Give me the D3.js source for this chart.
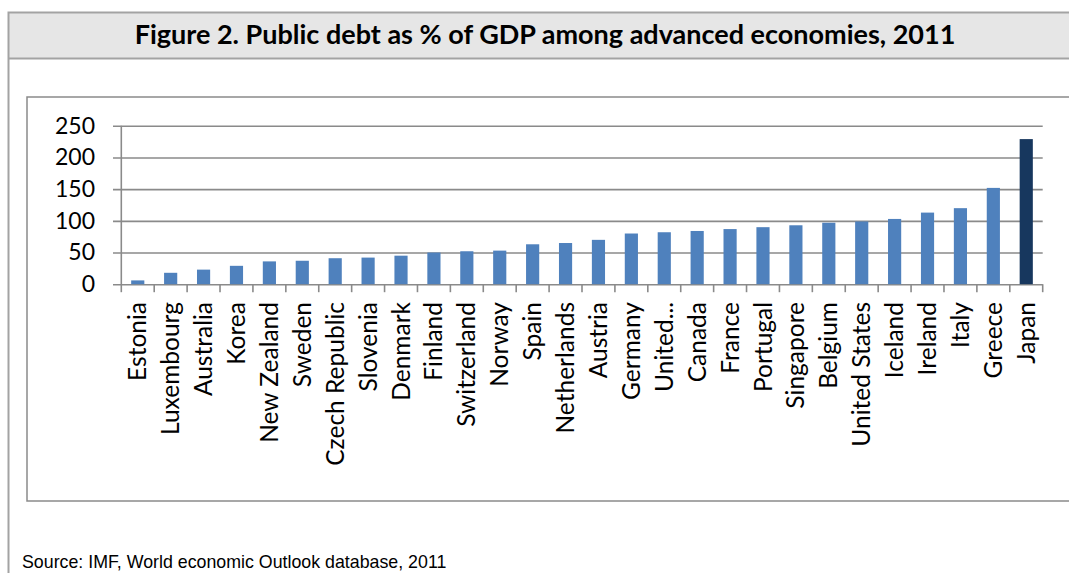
<!DOCTYPE html>
<html>
    <head>
        <title>Public debt as % of GDP, 2011</title>
        <script src="https://d3js.org/d3.v7.min.js"></script>
        <style>
            body { margin: 0; background: #fff; }
        </style>
    </head>
    <body>
        <div id="chart"></div>
        <script>
            //  the data
            const categories = ["Estonia", "Luxembourg", "Australia", "Korea", "New Zealand", "Sweden",
                "Czech Republic", "Slovenia", "Denmark", "Finland", "Switzerland", "Norway", "Spain",
                "Netherlands", "Austria", "Germany", "United...", "Canada", "France", "Portugal",
                "Singapore", "Belgium", "United States", "Iceland", "Ireland", "Italy", "Greece", "Japan"];
            const debt = [6, 18, 23, 29, 36, 37, 41, 42, 45, 50, 52, 53, 63, 65, 70, 80, 82, 84, 87, 90,
                93, 97, 99, 103, 113, 120, 152, 229];
            const yTicks = [0, 50, 100, 150, 200, 250];
            const highlight = "Japan";

            const title = "Figure 2. Public debt as % of GDP among advanced economies, 2011";
            const source = "Source: IMF, World economic Outlook database, 2011";

            const width = 1069;
            const height = 573;
            const plot = {left: 121.3, right: 1042.7, top: 125.8, bottom: 284.2};

            const svg = d3.select("#chart")
                .append("svg")
                    .attr("width", width)
                    .attr("height", height);

            //  outer frame + grey title band
            svg.append("rect")
                .attr("x", 8.5).attr("y", 12.5)
                .attr("width", 1100).attr("height", 46)
                .attr("fill", "#e6e6e6");
            svg.append("path")
                .attr("d", "M8.5,600V12.5H1100M8.5,58.5H1100")
                .attr("fill", "none")
                .attr("stroke", "#a3a3a3")
                .attr("stroke-width", 2);

            svg.append("text")
                .attr("x", 545).attr("y", 44)
                .attr("text-anchor", "middle")
                .attr("font-family", "Lato, sans-serif")
                .attr("font-weight", "bold")
                .attr("font-size", 27)
                .attr("fill", "#000")
                .text(title);

            //  inner chart frame
            svg.append("rect")
                .attr("x", 27).attr("y", 97)
                .attr("width", 1100).attr("height", 404)
                .attr("fill", "#fff")
                .attr("stroke", "#8a8a8a")
                .attr("stroke-width", 1.5);

            //  scales
            const x = d3.scaleBand()
                .domain(categories)
                .range([plot.left, plot.right])
                .paddingInner(0.6)
                .paddingOuter(0.3);

            const y = d3.scaleLinear()
                .domain([0, 250])
                .range([plot.bottom, plot.top]);

            //  gridlines, outside ticks and labels in one go
            const yAxis = svg.append("g")
                .attr("transform", `translate(${plot.right},0)`)
                .call(d3.axisLeft(y)
                    .tickValues(yTicks)
                    .tickSize(plot.right - 113)
                    .tickPadding(18));
            yAxis.select(".domain").remove();
            yAxis.selectAll(".tick line")
                .attr("stroke", "#8a8a8a")
                .attr("stroke-width", 1.6);
            yAxis.selectAll(".tick text")
                .attr("font-family", "Lato, sans-serif")
                .attr("font-size", 23)
                .attr("fill", "#000");

            //  vertical axis line
            svg.append("line")
                .attr("x1", plot.left).attr("x2", plot.left)
                .attr("y1", plot.top).attr("y2", plot.bottom)
                .attr("stroke", "#8a8a8a")
                .attr("stroke-width", 1.6);

            //  category boundary ticks
            const step = x.step();
            const bounds = categories.map(d => x(d) - x.paddingInner() * step / 2).concat([plot.right]);
            svg.append("g")
                .selectAll("line")
                .data(bounds)
                .join("line")
                    .attr("x1", d => d).attr("x2", d => d)
                    .attr("y1", plot.bottom).attr("y2", plot.bottom + 8)
                    .attr("stroke", "#8a8a8a")
                    .attr("stroke-width", 1.6);

            //  bars
            svg.append("g")
                .selectAll("rect")
                .data(categories.map((c, i) => ({name: c, value: debt[i]})))
                .join("rect")
                    .attr("x", d => x(d.name))
                    .attr("y", d => y(d.value))
                    .attr("width", x.bandwidth())
                    .attr("height", d => y(0) - y(d.value))
                    .attr("fill", d => d.name === highlight ? "#17375e" : "#4f81bd");

            //  rotated category labels
            svg.append("g")
                .selectAll("text")
                .data(categories)
                .join("text")
                    .attr("transform", d => `translate(${x(d) + x.bandwidth() / 2},302) rotate(-90)`)
                    .attr("text-anchor", "end")
                    .attr("dy", "0.35em")
                    .attr("font-family", "Lato, sans-serif")
                    .attr("font-size", 24.5)
                    .attr("fill", "#000")
                    .text(d => d);

            svg.append("text")
                .attr("x", 22).attr("y", 568)
                .attr("font-family", "'Liberation Sans', Arial, sans-serif")
                .attr("font-size", 17.8)
                .attr("fill", "#000")
                .text(source);
        </script>
    </body>
</html>
